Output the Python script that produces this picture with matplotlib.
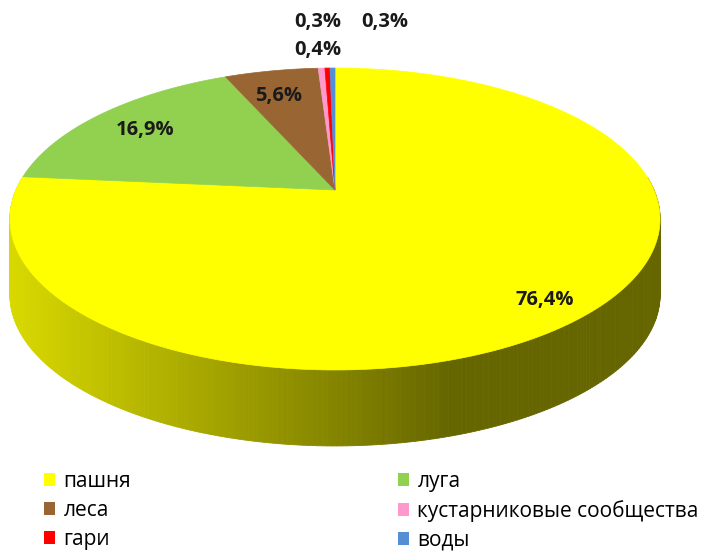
import numpy as np
import matplotlib.pyplot as plt
from matplotlib.patches import Polygon, Patch

categories = ["пашня", "луга", "леса", "кустарниковые сообщества", "гари", "воды"]
shares = [76.4, 16.9, 5.6, 0.4, 0.3, 0.3]
labels = ["76,4%", "16,9%", "5,6%", "0,4%", "0,3%", "0,3%"]
colors = ["#ffff00", "#92d050", "#996633", "#ff99cc", "#ff0000", "#558ed5"]

# layout (pixel coords, y down)
W, H = 708, 554
cx, cy = 335, 190          # projected pie centre
A, B, k = 319, 145.4, 0.192  # perspective of the top disc
depth = 76
label_pos = [(545, 300), (145, 130), (279, 96), (318, 50), (318, 22), (385, 22)]


def pt(theta):
    u, v = np.cos(theta), np.sin(theta)
    d = 1 + k * v
    return cx + A * u / d, cy - B * v / d


fig = plt.figure(figsize=(W / 100, H / 100), dpi=100)
ax = fig.add_axes([0, 0, 1, 1])
ax.set_xlim(0, W)
ax.set_ylim(H, 0)
ax.axis("off")

fracs = np.array(shares) / sum(shares)
starts = np.pi / 2 - 2 * np.pi * np.concatenate([[0], np.cumsum(fracs)[:-1]])
ends = starts - 2 * np.pi * fracs

# side wall, shaded left -> right (top face drawn over it)
for s, e, c in zip(starts, ends, colors):
    base = np.array(plt.matplotlib.colors.to_rgb(c))
    th = np.linspace(s, e, max(int(abs(e - s) * 80), 2))
    for a, b in zip(th[:-1], th[1:]):
        if np.sin(a) > 0.1 or np.sin(b) > 0.1:
            continue
        x1, y1 = pt(a)
        x2, y2 = pt(b)
        xm = (x1 + x2) / 2
        t = np.clip((xm - 10) / 440, 0, 1)
        kk = 0.85 - 0.45 * t
        ax.add_patch(Polygon([(x1, y1), (x2, y2), (x2, y2 + depth), (x1, y1 + depth)],
                             closed=True, facecolor=base * kk, edgecolor=base * kk,
                             linewidth=0.6))

# top face
for s, e, c in zip(starts, ends, colors):
    th = np.linspace(s, e, max(int(abs(e - s) * 200), 3))
    arc = [pt(t) for t in th]
    ax.add_patch(Polygon([(cx, cy)] + arc, closed=True, facecolor=c,
                         edgecolor=c, linewidth=0.5))

for (x, y), lab in zip(label_pos, labels):
    ax.text(x, y, lab, ha="center", va="center", fontsize=14.5,
            fontweight="bold", family="Open Sans", color="#1a1a1a")

# legend filled row by row
order = [0, 2, 4, 1, 3, 5]
handles = [Patch(facecolor=colors[i], edgecolor="none") for i in order]
fig.legend(handles, [categories[i] for i in order], loc="lower left",
           bbox_to_anchor=(0.035, -0.028), ncol=2, frameon=False,
           prop={"family": "Open Sans", "size": 15},
           handlelength=0.55, handleheight=0.55, handletextpad=0.4,
           columnspacing=12.8, labelspacing=0.38)

fig.savefig("out.png", dpi=100)
